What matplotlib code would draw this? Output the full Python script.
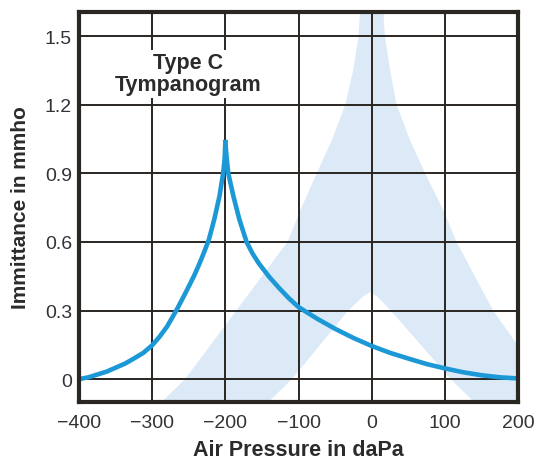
import matplotlib
matplotlib.use("Agg")
import matplotlib.pyplot as plt

plt.rcParams['font.family'] = ['Liberation Sans', 'DejaVu Sans']

# Type C curve (peak shifted to -200 daPa)
left_x = [-400, -387, -375, -362, -350, -337, -325, -312, -300, -290, -280, -267,
          -258, -250, -243, -236, -229, -222.5, -215, -208, -203, -201, -200]
left_y = [0.0, 0.008, 0.02, 0.033, 0.05, 0.068, 0.09, 0.115, 0.148, 0.185, 0.228, 0.30,
          0.355, 0.405, 0.45, 0.50, 0.555, 0.61, 0.70, 0.80, 0.90, 0.96, 1.036]
right_x = [-200, -198, -196, -189, -181, -171, -163, -154, -140, -127, -113, -100,
           -75, -50, -25, 0, 25, 50, 75, 100, 125, 150, 175, 200]
right_y = [1.036, 0.96, 0.90, 0.80, 0.70, 0.60, 0.55, 0.505, 0.447, 0.40, 0.353, 0.315,
           0.265, 0.22, 0.18, 0.145, 0.115, 0.09, 0.066, 0.047, 0.03, 0.017, 0.008, 0.003]

# normal range band: outer edge, left to right over the top
outer_x = [-287, -255, -185, -150, -115, -97, -75, -54, -36, -25, -18, -15.8,
           16, 18, 25, 34, 52, 73, 97.5, 116, 141, 166, 200, 200]
outer_y = [-0.1, 0.0, 0.3, 0.45, 0.6, 0.742, 0.9, 1.048, 1.2, 1.354, 1.5, 1.61,
           1.61, 1.5, 1.354, 1.2, 1.048, 0.9, 0.742, 0.6, 0.45, 0.3, 0.146, -0.1]
# inner edge, right to left under the apex
inner_x = [140, 108, 26, 8, -2, -12, -32, -109, -141]
inner_y = [-0.1, 0.0, 0.3, 0.36, 0.38, 0.36, 0.3, 0.0, -0.1]

x_ticks = [-400, -300, -200, -100, 0, 100, 200]
y_ticks = [0, 0.3, 0.6, 0.9, 1.2, 1.5]
y_labels = ['0', '0.3', '0.6', '0.9', '1.2', '1.5']

dark = '#2a2622'
curve_blue = '#1b98d5'
band_blue = '#dceaf8'

fig = plt.figure(figsize=(5.43, 4.64), dpi=100)
ax = fig.add_axes([79 / 543, 1 - 403 / 464, 439 / 543, 390 / 464])

ax.fill(outer_x + inner_x, outer_y + inner_y, color=band_blue, lw=0, zorder=0)

ax.plot(left_x, left_y, color=curve_blue, lw=3.3, solid_joinstyle='round', zorder=3)
ax.plot(right_x, right_y, color=curve_blue, lw=3.3, solid_joinstyle='round', zorder=3)

ax.set_xlim(-400, 200)
ax.set_ylim(-0.1, 1.605)
ax.set_xticks(x_ticks)
ax.set_yticks(y_ticks)
ax.set_yticklabels(y_labels)
ax.grid(True, color=dark, lw=1.4, zorder=1)
ax.set_axisbelow(True)
for s in ax.spines.values():
    s.set_linewidth(3)
    s.set_color(dark)
    s.set_zorder(4)
ax.tick_params(length=0, labelsize=14, colors='#333333')
ax.tick_params(axis='x', pad=9)
ax.tick_params(axis='y', pad=5)

ax.set_xlabel('Air Pressure in daPa', fontsize=15.5, fontweight='bold', color='#2b2b2b')
ax.set_ylabel('Immittance in mmho', fontsize=15, fontweight='bold', color='#2b2b2b')
ax.xaxis.set_label_coords(0.5, -0.122)
ax.xaxis.label.set_va('center')
ax.yaxis.set_label_coords(-0.133, 0.5)
ax.yaxis.label.set_va('center')

ax.text(-251, 1.335, 'Type C\nTympanogram', ha='center', va='center', fontsize=15.5,
        fontweight='bold', color='#2b2b2b', linespacing=1.05, zorder=5,
        bbox=dict(facecolor='white', edgecolor='none', pad=2))

fig.savefig('out.png', dpi=100)
